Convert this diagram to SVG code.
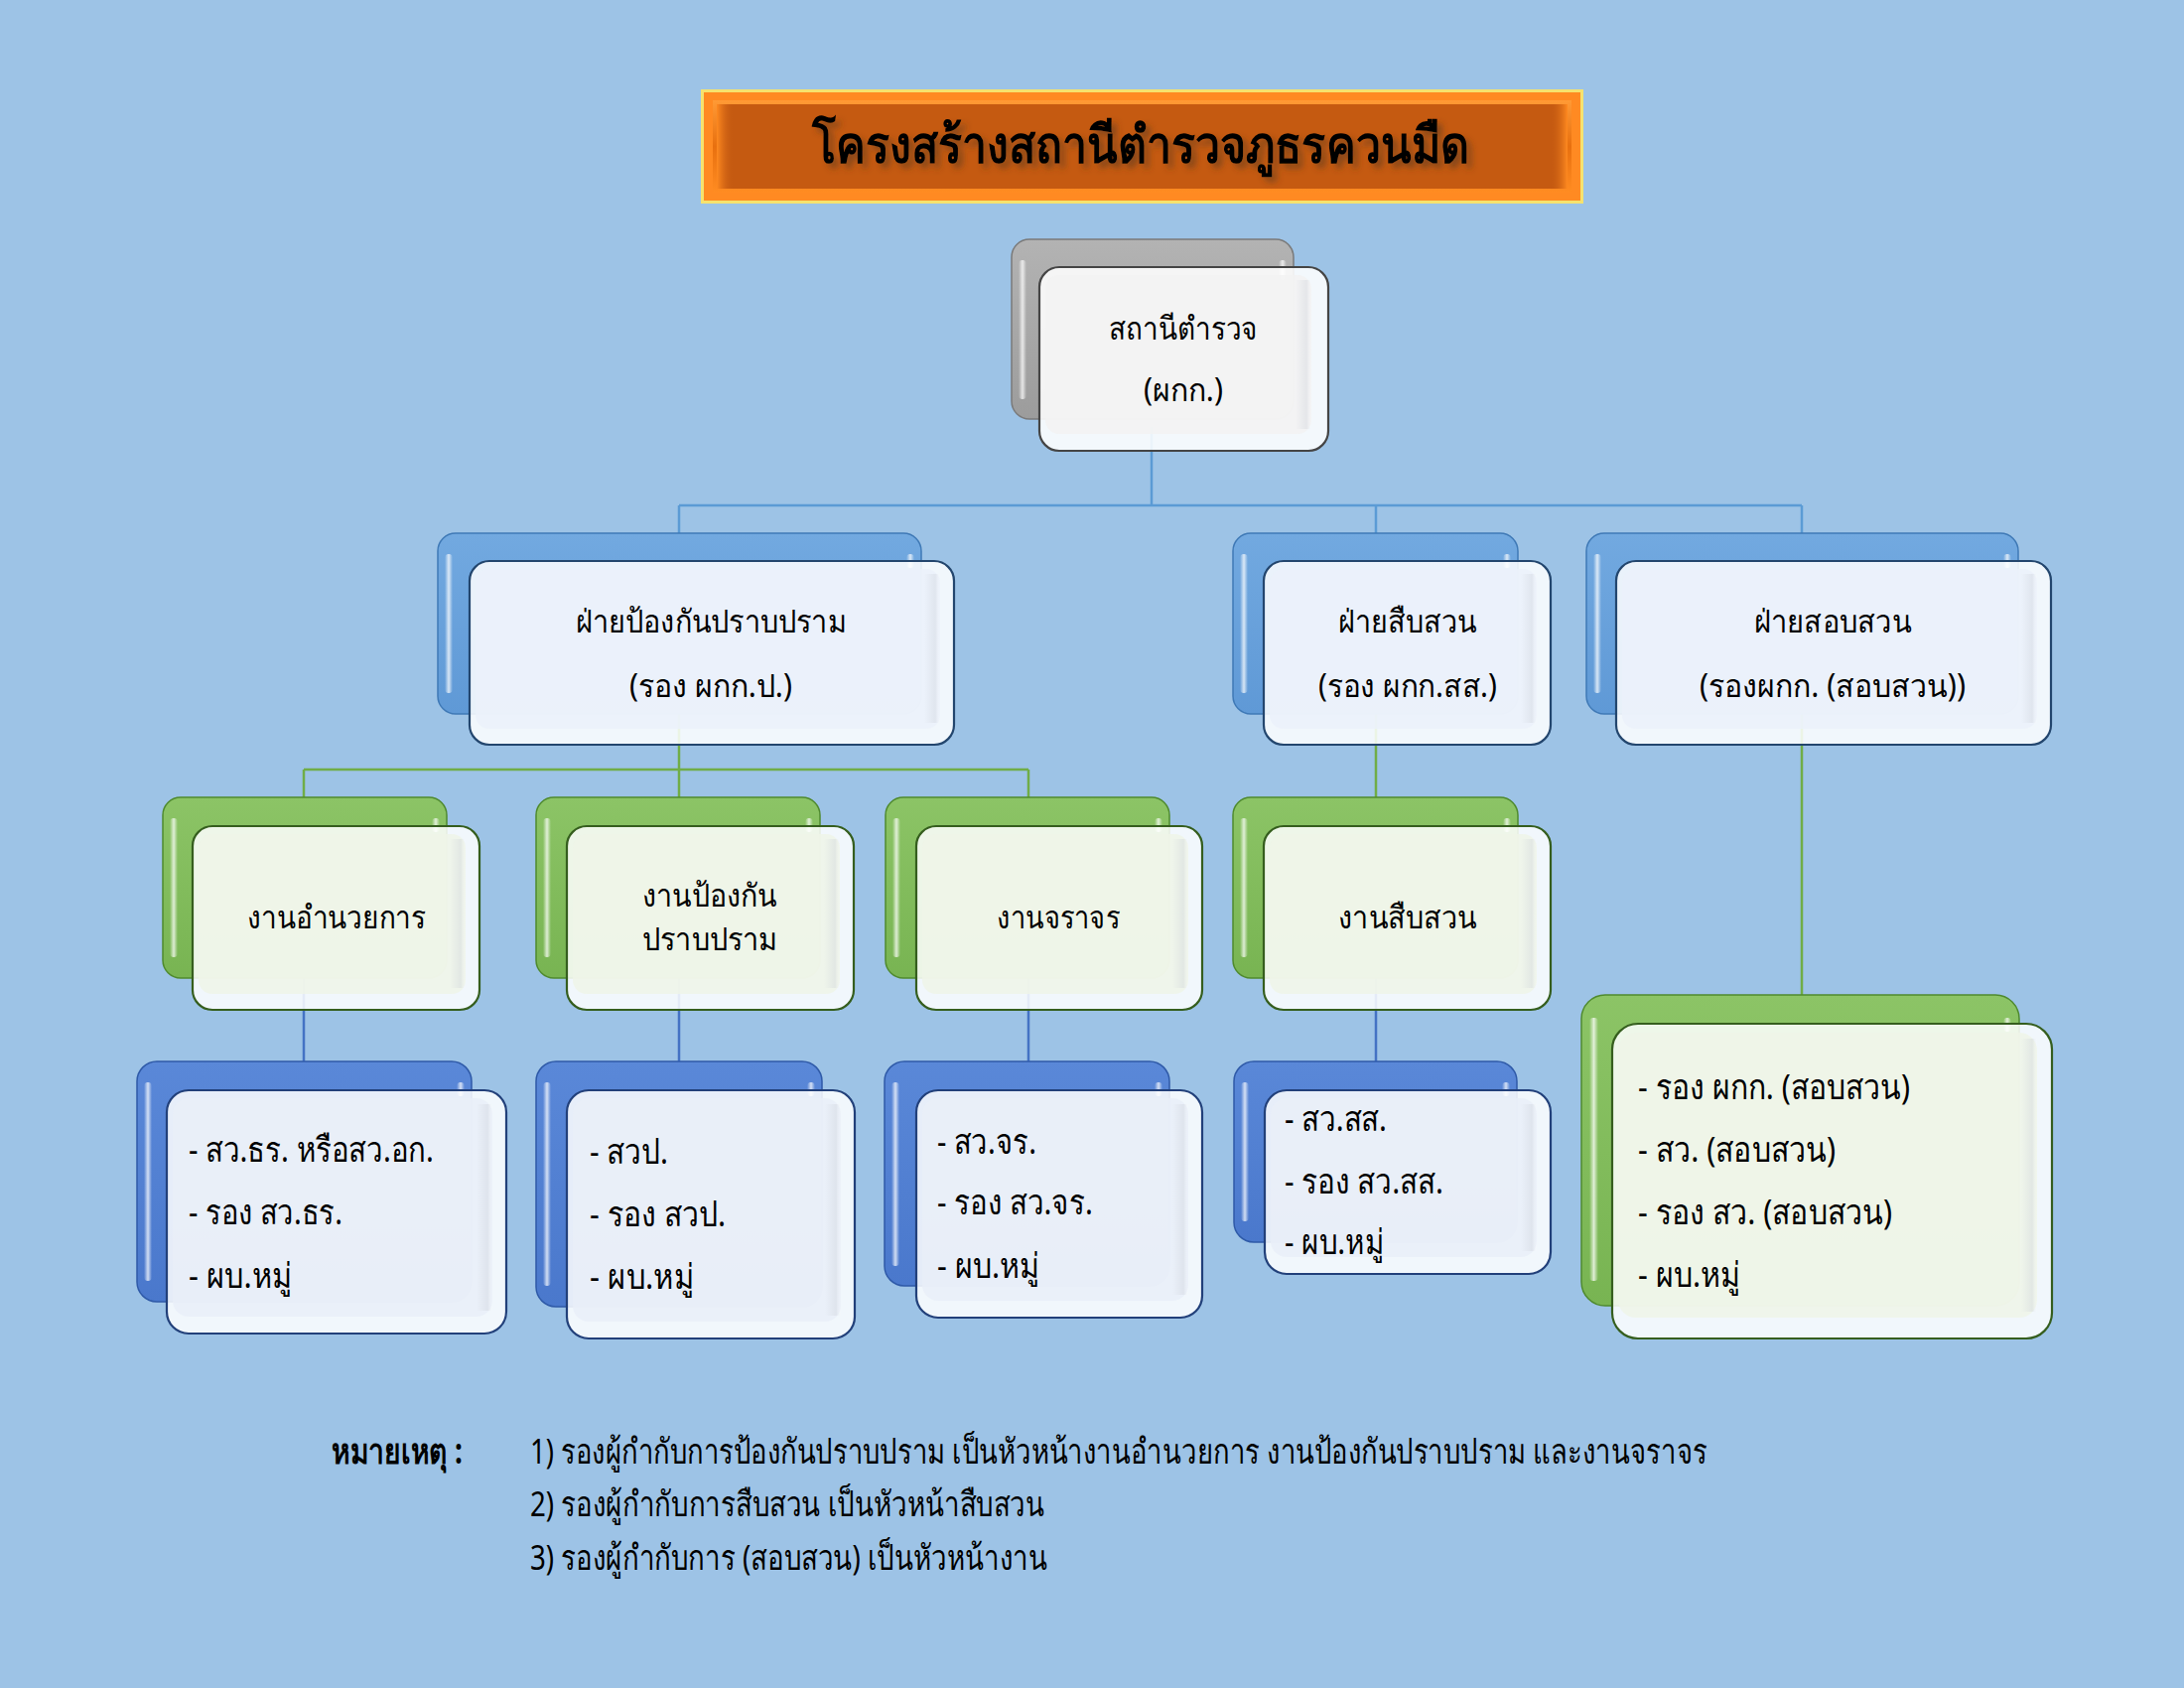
<svg xmlns="http://www.w3.org/2000/svg" width="2200" height="1700" viewBox="0 0 2200 1700">
<defs>
<style>
text{font-family:"Noto Sans","DejaVu Sans",sans-serif;fill:#000;}
.t{font-size:32px;text-anchor:middle;}
.l{font-size:35px;}
.n{font-size:35px;}
.ln{fill:none;stroke-width:2.5;}
.cb{stroke:#5b9bd5;}
.cg{stroke:#70ad47;}
.cd{stroke:#4472c4;}
.fr{stroke-width:2.2;}
</style>
<linearGradient id="gGray" x1="0" y1="0" x2="0" y2="1"><stop offset="0" stop-color="#b3b3b3"/><stop offset="1" stop-color="#9c9c9c"/></linearGradient>
<linearGradient id="gBlue" x1="0" y1="0" x2="0" y2="1"><stop offset="0" stop-color="#72a9e0"/><stop offset="1" stop-color="#5f99d6"/></linearGradient>
<linearGradient id="gDBlue" x1="0" y1="0" x2="0" y2="1"><stop offset="0" stop-color="#5a88d8"/><stop offset="1" stop-color="#4a78cc"/></linearGradient>
<linearGradient id="gGreen" x1="0" y1="0" x2="0" y2="1"><stop offset="0" stop-color="#8cc466"/><stop offset="1" stop-color="#78b452"/></linearGradient>
<linearGradient id="hl" x1="0" y1="0" x2="1" y2="0"><stop offset="0" stop-color="#fff" stop-opacity="0"/><stop offset="0.5" stop-color="#fff" stop-opacity="0.75"/><stop offset="1" stop-color="#fff" stop-opacity="0"/></linearGradient>
<linearGradient id="bev" x1="0" y1="0" x2="1" y2="0"><stop offset="0" stop-color="#c9ced6" stop-opacity="0"/><stop offset="0.7" stop-color="#c9ced6" stop-opacity="0.35"/><stop offset="1" stop-color="#ffffff" stop-opacity="0.1"/></linearGradient>
<linearGradient id="orgV" x1="0" y1="0" x2="0" y2="1"><stop offset="0" stop-color="#ff9a35"/><stop offset="0.5" stop-color="#e8700f"/><stop offset="1" stop-color="#ff8c22"/></linearGradient>
<linearGradient id="orgH" x1="0" y1="0" x2="1" y2="0"><stop offset="0" stop-color="#ff8a20"/><stop offset="0.02" stop-color="#c55a11" stop-opacity="0"/><stop offset="0.98" stop-color="#c55a11" stop-opacity="0"/><stop offset="1" stop-color="#ff8a20"/></linearGradient>
<filter id="tsh" x="-10%" y="-30%" width="120%" height="160%"><feGaussianBlur in="SourceAlpha" stdDeviation="3"/><feOffset dx="5" dy="5" result="b"/><feFlood flood-color="#5a3a20" flood-opacity="0.6"/><feComposite in2="b" operator="in"/><feMerge><feMergeNode/><feMergeNode in="SourceGraphic"/></feMerge></filter>
</defs>
<rect x="0" y="0" width="2200" height="1700" fill="#9dc3e6"/>

<g id="title">
<rect x="706" y="90" width="889" height="115" fill="#f6e26e"/>
<rect x="709" y="93" width="883" height="109" fill="#ff8a22"/>
<rect x="718" y="101" width="865" height="93" fill="url(#orgV)"/>
<rect x="722" y="105" width="857" height="85" fill="#c55a11"/>
<rect x="722" y="105" width="857" height="85" fill="url(#orgH)"/>
<text x="1149" y="164" font-size="52" font-weight="600" text-anchor="middle" textLength="662" lengthAdjust="spacingAndGlyphs" filter="url(#tsh)">โครงสร้างสถานีตำรวจภูธรควนมืด</text>
</g>

<g id="connectors">
<path class="ln cb" d="M1160 430V509M684 509H1815M684 509V540M1386 509V540M1815 509V540"/>
<path class="ln cg" d="M684 715V775M306 775H1036M306 775V806M684 775V806M1036 775V806M1386 715V806M1815 715V1005"/>
<path class="ln cd" d="M306 985V1072M684 985V1072M1036 985V1072M1386 985V1072"/>
</g>

<g id="n-top">
<rect x="1019" y="241" width="284" height="181" rx="18" fill="url(#gGray)" stroke="#7a7a7a" stroke-width="1.5"/>
<rect x="1026" y="262" width="8" height="140" rx="4" fill="url(#hl)"/>
<rect x="1288" y="262" width="8" height="20" rx="4" fill="url(#hl)"/>
<rect class="fr" x="1047" y="269" width="291" height="185" rx="20" fill="#ffffff" fill-opacity="0.88" stroke="#454545"/>
<rect x="1053" y="277" width="268" height="160" rx="14" fill="#f2f2f2" fill-opacity="0.85"/>
<rect x="1305" y="282" width="16" height="150" fill="url(#bev)"/>
<text class="t" x="1192" y="342" textLength="150" lengthAdjust="spacingAndGlyphs">สถานีตำรวจ</text>
<text class="t" x="1192" y="404" textLength="80" lengthAdjust="spacingAndGlyphs">(ผกก.)</text>
</g>

<g id="n-prevent">
<rect x="441" y="537" width="487" height="182" rx="18" fill="url(#gBlue)" stroke="#3f79b6" stroke-width="1.5"/>
<rect x="448" y="558" width="8" height="140" rx="4" fill="url(#hl)"/>
<rect x="913" y="558" width="8" height="14" rx="4" fill="url(#hl)"/>
<rect class="fr" x="473" y="565" width="488" height="185" rx="20" fill="#ffffff" fill-opacity="0.86" stroke="#23466e"/>
<rect x="479" y="573" width="468" height="161" rx="14" fill="#ebf1fa" fill-opacity="0.85"/>
<rect x="931" y="578" width="16" height="150" fill="url(#bev)"/>
<text class="t" x="716" y="637" textLength="273" lengthAdjust="spacingAndGlyphs">ฝ่ายป้องกันปราบปราม</text>
<text class="t" x="716" y="702" textLength="164" lengthAdjust="spacingAndGlyphs">(รอง ผกก.ป.)</text>
</g>

<g id="n-invest">
<rect x="1242" y="537" width="287" height="182" rx="18" fill="url(#gBlue)" stroke="#3f79b6" stroke-width="1.5"/>
<rect x="1249" y="558" width="8" height="140" rx="4" fill="url(#hl)"/>
<rect x="1514" y="558" width="8" height="14" rx="4" fill="url(#hl)"/>
<rect class="fr" x="1273" y="565" width="289" height="185" rx="20" fill="#ffffff" fill-opacity="0.86" stroke="#23466e"/>
<rect x="1279" y="573" width="269" height="161" rx="14" fill="#ebf1fa" fill-opacity="0.85"/>
<rect x="1532" y="578" width="16" height="150" fill="url(#bev)"/>
<text class="t" x="1418" y="637" textLength="140" lengthAdjust="spacingAndGlyphs">ฝ่ายสืบสวน</text>
<text class="t" x="1418" y="702" textLength="180" lengthAdjust="spacingAndGlyphs">(รอง ผกก.สส.)</text>
</g>

<g id="n-inquiry">
<rect x="1598" y="537" width="435" height="182" rx="18" fill="url(#gBlue)" stroke="#3f79b6" stroke-width="1.5"/>
<rect x="1605" y="558" width="8" height="140" rx="4" fill="url(#hl)"/>
<rect x="2018" y="558" width="8" height="14" rx="4" fill="url(#hl)"/>
<rect class="fr" x="1628" y="565" width="438" height="185" rx="20" fill="#ffffff" fill-opacity="0.86" stroke="#23466e"/>
<rect x="1634" y="573" width="418" height="161" rx="14" fill="#ebf1fa" fill-opacity="0.85"/>
<rect x="2036" y="578" width="16" height="150" fill="url(#bev)"/>
<text class="t" x="1846" y="637" textLength="159" lengthAdjust="spacingAndGlyphs">ฝ่ายสอบสวน</text>
<text class="t" x="1846" y="702" textLength="268" lengthAdjust="spacingAndGlyphs">(รองผกก. (สอบสวน))</text>
</g>

<g id="n-admin">
<rect x="164" y="803" width="286" height="182" rx="18" fill="url(#gGreen)" stroke="#4f8a2e" stroke-width="1.5"/>
<rect x="171" y="824" width="8" height="140" rx="4" fill="url(#hl)"/>
<rect x="435" y="824" width="8" height="14" rx="4" fill="url(#hl)"/>
<rect class="fr" x="194" y="832" width="289" height="185" rx="20" fill="#ffffff" fill-opacity="0.86" stroke="#355e1e"/>
<rect x="200" y="840" width="269" height="161" rx="14" fill="#eef5e8" fill-opacity="0.85"/>
<rect x="453" y="845" width="16" height="150" fill="url(#bev)"/>
<text class="t" x="339" y="935" textLength="180" lengthAdjust="spacingAndGlyphs">งานอำนวยการ</text>
</g>

<g id="n-prevwork">
<rect x="540" y="803" width="286" height="182" rx="18" fill="url(#gGreen)" stroke="#4f8a2e" stroke-width="1.5"/>
<rect x="547" y="824" width="8" height="140" rx="4" fill="url(#hl)"/>
<rect x="811" y="824" width="8" height="14" rx="4" fill="url(#hl)"/>
<rect class="fr" x="571" y="832" width="289" height="185" rx="20" fill="#ffffff" fill-opacity="0.86" stroke="#355e1e"/>
<rect x="577" y="840" width="269" height="161" rx="14" fill="#eef5e8" fill-opacity="0.85"/>
<rect x="830" y="845" width="16" height="150" fill="url(#bev)"/>
<text class="t" x="715" y="913" textLength="136" lengthAdjust="spacingAndGlyphs">งานป้องกัน</text>
<text class="t" x="715" y="957" textLength="136" lengthAdjust="spacingAndGlyphs">ปราบปราม</text>
</g>

<g id="n-traffic">
<rect x="892" y="803" width="286" height="182" rx="18" fill="url(#gGreen)" stroke="#4f8a2e" stroke-width="1.5"/>
<rect x="899" y="824" width="8" height="140" rx="4" fill="url(#hl)"/>
<rect x="1163" y="824" width="8" height="14" rx="4" fill="url(#hl)"/>
<rect class="fr" x="923" y="832" width="288" height="185" rx="20" fill="#ffffff" fill-opacity="0.86" stroke="#355e1e"/>
<rect x="929" y="840" width="268" height="161" rx="14" fill="#eef5e8" fill-opacity="0.85"/>
<rect x="1181" y="845" width="16" height="150" fill="url(#bev)"/>
<text class="t" x="1066" y="935" textLength="124" lengthAdjust="spacingAndGlyphs">งานจราจร</text>
</g>

<g id="n-investwork">
<rect x="1242" y="803" width="287" height="182" rx="18" fill="url(#gGreen)" stroke="#4f8a2e" stroke-width="1.5"/>
<rect x="1249" y="824" width="8" height="140" rx="4" fill="url(#hl)"/>
<rect x="1514" y="824" width="8" height="14" rx="4" fill="url(#hl)"/>
<rect class="fr" x="1273" y="832" width="289" height="185" rx="20" fill="#ffffff" fill-opacity="0.86" stroke="#355e1e"/>
<rect x="1279" y="840" width="269" height="161" rx="14" fill="#eef5e8" fill-opacity="0.85"/>
<rect x="1532" y="845" width="16" height="150" fill="url(#bev)"/>
<text class="t" x="1418" y="935" textLength="140" lengthAdjust="spacingAndGlyphs">งานสืบสวน</text>
</g>

<g id="n-list-admin">
<rect x="138" y="1069" width="337" height="242" rx="20" fill="url(#gDBlue)" stroke="#2f5aa8" stroke-width="1.5"/>
<rect x="145" y="1090" width="8" height="200" rx="4" fill="url(#hl)"/>
<rect x="460" y="1090" width="8" height="14" rx="4" fill="url(#hl)"/>
<rect class="fr" x="168" y="1098" width="342" height="245" rx="22" fill="#ffffff" fill-opacity="0.86" stroke="#22407a"/>
<rect x="174" y="1106" width="322" height="220" rx="16" fill="#e9eef8" fill-opacity="0.85"/>
<rect x="480" y="1112" width="16" height="208" fill="url(#bev)"/>
<text class="l" x="190" y="1170" textLength="247" lengthAdjust="spacingAndGlyphs">- สว.ธร. หรือสว.อก.</text>
<text class="l" x="190" y="1233" textLength="155" lengthAdjust="spacingAndGlyphs">- รอง สว.ธร.</text>
<text class="l" x="190" y="1297" textLength="104" lengthAdjust="spacingAndGlyphs">- ผบ.หมู่</text>
</g>

<g id="n-list-prev">
<rect x="540" y="1069" width="288" height="247" rx="20" fill="url(#gDBlue)" stroke="#2f5aa8" stroke-width="1.5"/>
<rect x="547" y="1090" width="8" height="205" rx="4" fill="url(#hl)"/>
<rect x="813" y="1090" width="8" height="14" rx="4" fill="url(#hl)"/>
<rect class="fr" x="571" y="1098" width="290" height="250" rx="22" fill="#ffffff" fill-opacity="0.86" stroke="#22407a"/>
<rect x="577" y="1106" width="270" height="225" rx="16" fill="#e9eef8" fill-opacity="0.85"/>
<rect x="831" y="1112" width="16" height="213" fill="url(#bev)"/>
<text class="l" x="594" y="1172" textLength="79" lengthAdjust="spacingAndGlyphs">- สวป.</text>
<text class="l" x="594" y="1235" textLength="137" lengthAdjust="spacingAndGlyphs">- รอง สวป.</text>
<text class="l" x="594" y="1298" textLength="105" lengthAdjust="spacingAndGlyphs">- ผบ.หมู่</text>
</g>

<g id="n-list-traffic">
<rect x="891" y="1069" width="287" height="226" rx="20" fill="url(#gDBlue)" stroke="#2f5aa8" stroke-width="1.5"/>
<rect x="898" y="1090" width="8" height="185" rx="4" fill="url(#hl)"/>
<rect x="1163" y="1090" width="8" height="14" rx="4" fill="url(#hl)"/>
<rect class="fr" x="923" y="1098" width="288" height="229" rx="22" fill="#ffffff" fill-opacity="0.86" stroke="#22407a"/>
<rect x="929" y="1106" width="268" height="204" rx="16" fill="#e9eef8" fill-opacity="0.85"/>
<rect x="1181" y="1112" width="16" height="192" fill="url(#bev)"/>
<text class="l" x="944" y="1162" textLength="100" lengthAdjust="spacingAndGlyphs">- สว.จร.</text>
<text class="l" x="944" y="1223" textLength="157" lengthAdjust="spacingAndGlyphs">- รอง สว.จร.</text>
<text class="l" x="944" y="1287" textLength="103" lengthAdjust="spacingAndGlyphs">- ผบ.หมู่</text>
</g>

<g id="n-list-invest">
<rect x="1243" y="1069" width="285" height="182" rx="20" fill="url(#gDBlue)" stroke="#2f5aa8" stroke-width="1.5"/>
<rect x="1250" y="1090" width="8" height="140" rx="4" fill="url(#hl)"/>
<rect x="1513" y="1090" width="8" height="14" rx="4" fill="url(#hl)"/>
<rect class="fr" x="1274" y="1098" width="288" height="185" rx="22" fill="#ffffff" fill-opacity="0.86" stroke="#22407a"/>
<rect x="1280" y="1106" width="268" height="160" rx="16" fill="#e9eef8" fill-opacity="0.85"/>
<rect x="1532" y="1112" width="16" height="148" fill="url(#bev)"/>
<text class="l" x="1294" y="1139" textLength="103" lengthAdjust="spacingAndGlyphs">- สว.สส.</text>
<text class="l" x="1294" y="1202" textLength="160" lengthAdjust="spacingAndGlyphs">- รอง สว.สส.</text>
<text class="l" x="1294" y="1263" textLength="100" lengthAdjust="spacingAndGlyphs">- ผบ.หมู่</text>
</g>

<g id="n-list-inquiry">
<rect x="1593" y="1002" width="441" height="313" rx="24" fill="url(#gGreen)" stroke="#4f8a2e" stroke-width="1.5"/>
<rect x="1601" y="1025" width="9" height="265" rx="4" fill="url(#hl)"/>
<rect x="2018" y="1025" width="8" height="14" rx="4" fill="url(#hl)"/>
<rect class="fr" x="1624" y="1031" width="443" height="317" rx="26" fill="#ffffff" fill-opacity="0.86" stroke="#355e1e"/>
<rect x="1630" y="1040" width="422" height="287" rx="18" fill="#eef5e8" fill-opacity="0.85"/>
<rect x="2036" y="1046" width="16" height="275" fill="url(#bev)"/>
<text class="l" x="1650" y="1107" textLength="274" lengthAdjust="spacingAndGlyphs">- รอง ผกก. (สอบสวน)</text>
<text class="l" x="1650" y="1170" textLength="199" lengthAdjust="spacingAndGlyphs">- สว. (สอบสวน)</text>
<text class="l" x="1650" y="1233" textLength="256" lengthAdjust="spacingAndGlyphs">- รอง สว. (สอบสวน)</text>
<text class="l" x="1650" y="1296" textLength="103" lengthAdjust="spacingAndGlyphs">- ผบ.หมู่</text>
</g>

<g id="notes">
<text class="n" x="334" y="1474" font-weight="bold" textLength="132" lengthAdjust="spacingAndGlyphs">หมายเหตุ :</text>
<text class="n" x="534" y="1474" textLength="1186" lengthAdjust="spacingAndGlyphs">1) รองผู้กำกับการป้องกันปราบปราม เป็นหัวหน้างานอำนวยการ งานป้องกันปราบปราม และงานจราจร</text>
<text class="n" x="534" y="1527" textLength="518" lengthAdjust="spacingAndGlyphs">2) รองผู้กำกับการสืบสวน เป็นหัวหน้าสืบสวน</text>
<text class="n" x="534" y="1581" textLength="521" lengthAdjust="spacingAndGlyphs">3) รองผู้กำกับการ (สอบสวน) เป็นหัวหน้างาน</text>
</g>
</svg>
